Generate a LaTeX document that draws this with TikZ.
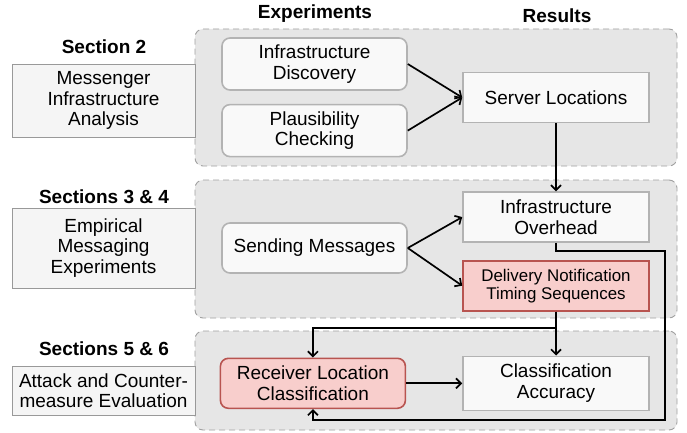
\documentclass[tikz,border=0pt]{standalone}
\usepackage{fontspec}
\setmainfont{Liberation Sans}
\usetikzlibrary{positioning,arrows.meta}

\definecolor{grpfill}{HTML}{E6E6E6}
\definecolor{grpline}{HTML}{A0A0A0}
\definecolor{boxfill}{HTML}{F9F9F9}
\definecolor{boxline}{HTML}{B3B3B3}
\definecolor{secfill}{HTML}{F5F5F5}
\definecolor{secline}{HTML}{999999}
\definecolor{hotfill}{HTML}{F8CECC}
\definecolor{hotline}{HTML}{B85450}

\tikzset{
	grp/.style={draw=grpline, fill=grpfill, line width=0.9pt, dash pattern=on 6pt off 4pt, rounded corners=8pt},
	secbox/.style={draw=secline, fill=secfill, line width=0.8pt, minimum width=183pt, align=center, font=\fontsize{19}{20.5}\selectfont},
	sectitle/.style={inner sep=0pt, font=\fontsize{19}{21}\selectfont\bfseries},
	expbox/.style={draw=boxline, fill=boxfill, line width=1.6pt, rounded corners=8pt, minimum width=185pt, minimum height=52pt, align=center, font=\fontsize{19}{20.5}\selectfont},
	resbox/.style={draw=boxline, fill=boxfill, line width=1.6pt, minimum width=186pt, minimum height=50pt, align=center, font=\fontsize{19}{20.5}\selectfont},
	hot/.style={draw=hotline, fill=hotfill},
	arr/.style={line width=1.7pt, -{Straight Barb[length=5pt,width=10pt]}}
}

\begin{document}
\begin{tikzpicture}[x=1pt, y=-1pt]
	\useasboundingbox (0,0) rectangle (687,433);
	% groups
	\node[grp, minimum width=482pt, minimum height=137pt] (grp1) at (436,97.5) {};
	\node[grp, minimum width=482pt, minimum height=138pt] (grp2) at (436,249) {};
	\node[grp, minimum width=482pt, minimum height=99pt] (grp3) at (436,380.5) {};
	% sections
	\node[secbox, minimum height=73pt] (sec2) at (103.5,100.5) {Messenger\\Infrastructure\\Analysis};
	\node[secbox, minimum height=80pt] (sec34) at (103.5,248) {Empirical\\Messaging\\Experiments};
	\node[secbox, minimum height=49pt, inner sep=1pt] (sec56) at (103.5,390.5) {Attack and Counter-\\measure Evaluation};
	\node[sectitle] (t2) at (104,47) {Section 2};
	\node[sectitle] (t34) at (104,197) {Sections 3 \& 4};
	\node[sectitle] (t56) at (104,349) {Sections 5 \& 6};
	\node[sectitle] (hexp) at (315,14) {Experiments};
	\node[sectitle] (hres) at (557,16) {Results};
	% experiments and results
	\node[expbox] (infdisc) at (314.5,64) {Infrastructure\\Discovery};
	\node[expbox, below = 13pt of infdisc] (plaus) {Plausibility\\Checking};
	\node[resbox] (srv) at (556,97.5) {Server Locations};
	\node[resbox, below = 68pt of srv] (ovh) {Infrastructure\\Overhead};
	\node[resbox, hot, below = 17pt of ovh, font=\fontsize{16.9}{18}\selectfont] (dnts) {Delivery Notification\\Timing Sequences};
	\node[resbox, below = 44pt of dnts, minimum height=54pt] (acc) {Classification\\Accuracy};
	\node[expbox, minimum height=50pt] (send) at (314.5,248) {Sending Messages};
	\node[expbox, hot, minimum height=50pt, left = 56pt of acc] (recv) {Receiver Location\\Classification};
	\coordinate (loop) at (665,420);
	% connectors
	\draw[arr] (infdisc.east) -- (srv.west);
	\draw[arr] (plaus.east) -- (srv.west);
	\draw[arr] (srv) -- (ovh);
	\draw[arr] (send.east) -- (ovh.west);
	\draw[arr] (send.east) -- (dnts.west);
	\draw[arr] (dnts) -- (acc);
	\draw[arr] (dnts.south) -- ++(0,16.5) -| (recv.north);
	\draw[arr] (ovh.south) -- ++(0,8) -| (loop) -| (recv.south);
	\draw[arr] (recv) -- (acc);
\end{tikzpicture}
\end{document}
